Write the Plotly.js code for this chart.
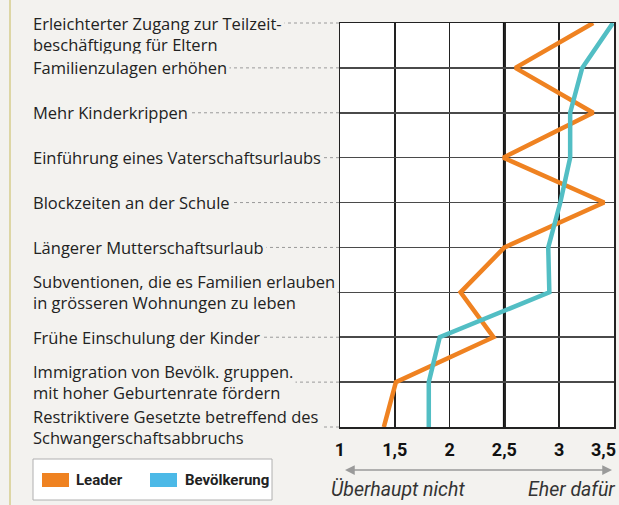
<!DOCTYPE html>
<html>
<head>
<meta charset="utf-8">
<script src="https://cdn.plot.ly/plotly-3.0.1.min.js"></script>
<style>html,body{margin:0;padding:0;background:#f3f2ef;}#chart{width:619px;height:505px;}</style>
</head>
<body>
<div id="chart"></div>
<script>
const categories = [
  'Erleichterter Zugang zur Teilzeit-<br>beschäftigung für Eltern',
  'Familienzulagen erhöhen',
  'Mehr Kinderkrippen',
  'Einführung eines Vaterschaftsurlaubs',
  'Blockzeiten an der Schule',
  'Längerer Mutterschaftsurlaub',
  'Subventionen, die es Familien erlauben<br>in grösseren Wohnungen zu leben',
  'Frühe Einschulung der Kinder',
  'Immigration von Bevölk. gruppen.<br>mit hoher Geburtenrate fördern',
  'Restriktivere Gesetzte betreffend des<br>Schwangerschaftsabbruchs'
];
const seriesNames = ['Leader', 'Bevölkerung'];
const leader      = [3.31, 2.60, 3.31, 2.49, 3.41, 2.50, 2.10, 2.40, 1.51, 1.40];
const bevoelkerung = [3.49, 3.21, 3.10, 3.10, 3.01, 2.90, 2.91, 1.91, 1.81, 1.81];
const tickVals = [1, 1.5, 2, 2.5, 3, 3.5];
const tickText = ['1', '1,5', '2', '2,5', '3', '3,5'];
const scaleLabels = ['Überhaupt nicht', 'Eher dafür'];

// styling (not data)
const BG = '#f3f2ef';
const ORANGE = '#ef8221';
const TEAL = '#52bec4';
const TEAL_KEY = '#4cb9e7';
const LABEL_FONT = {family: '"Open Sans", sans-serif', size: 16.5, color: '#222'};
const TICK_FONT = {family: 'Roboto, sans-serif', size: 18, color: '#111', weight: 'bold'};
const firstLineAligned = [true, false, false, false, false, false, false, false, false, false];
const lastIdx = categories.length - 1;
const lastTick = tickText.length - 1;
// the last tick label sits at the right page edge: draw it right-aligned to its tick
const ticksShown = tickText.map((t, i) => i === lastTick ? '' : t);

const traces = [
  {x: leader, y: categories, type: 'scatter', mode: 'lines', name: seriesNames[0],
   line: {color: ORANGE, width: 4.5}, cliponaxis: false, showlegend: false, hoverinfo: 'x+name'},
  {x: bevoelkerung, y: categories, type: 'scatter', mode: 'lines', name: seriesNames[1],
   line: {color: TEAL, width: 4.5}, cliponaxis: false, showlegend: false, hoverinfo: 'x+name'}
];

const annotations = [];
const shapes = [];
categories.forEach((c, i) => {
  annotations.push({
    text: c, xref: 'paper', x: 0, xshift: -310, xanchor: 'left',
    yref: 'y', y: c, yanchor: 'middle', yshift: firstLineAligned[i] ? -11 : 0,
    showarrow: false, align: 'left', bgcolor: BG, borderpad: 2,
    font: LABEL_FONT
  });
  shapes.push({
    type: 'line', layer: 'below', xref: 'paper', xsizemode: 'pixel', xanchor: 0, x0: -280, x1: 0,
    yref: 'paper', y0: 1 - i / lastIdx, y1: 1 - i / lastIdx,
    line: {color: '#9a9a9a', width: 1, dash: 'dot'}
  });
});

annotations.push({text: tickText[lastTick], xref: 'x', x: tickVals[lastTick], xanchor: 'right', xshift: 4,
  yref: 'paper', y: 0, yanchor: 'middle', yshift: -22, showarrow: false, font: TICK_FONT});

// thick reference line at midpoint value of the scale
shapes.push({type: 'line', layer: 'below', xref: 'x', x0: tickVals[3], x1: tickVals[3], yref: 'paper', y0: 0, y1: 1,
  line: {color: '#111', width: 3}});
// left border strip
shapes.push({type: 'line', xref: 'paper', xsizemode: 'pixel', xanchor: 0, x0: -330, x1: -330,
  yref: 'paper', y0: -1, y1: 2, line: {color: '#d6cd8c', width: 1.5}});
// legend box
shapes.push({type: 'rect', xref: 'paper', xsizemode: 'pixel', xanchor: 0, x0: -307, x1: -68,
  yref: 'paper', ysizemode: 'pixel', yanchor: 0, y0: -32, y1: -73,
  fillcolor: '#ffffff', line: {color: '#b0b0b0', width: 1}});
shapes.push({type: 'rect', xref: 'paper', xsizemode: 'pixel', xanchor: 0, x0: -298, x1: -271,
  yref: 'paper', ysizemode: 'pixel', yanchor: 0, y0: -46, y1: -60,
  fillcolor: ORANGE, line: {width: 0}});
shapes.push({type: 'rect', xref: 'paper', xsizemode: 'pixel', xanchor: 0, x0: -190, x1: -163,
  yref: 'paper', ysizemode: 'pixel', yanchor: 0, y0: -46, y1: -60,
  fillcolor: TEAL_KEY, line: {width: 0}});

annotations.push({text: '<b>' + seriesNames[0] + '</b>', xref: 'paper', x: 0, xshift: -266, xanchor: 'left',
  yref: 'paper', y: 0, yshift: -53, yanchor: 'middle', showarrow: false,
  font: {family: 'Roboto, sans-serif', size: 15, color: '#222'}});
annotations.push({text: '<b>' + seriesNames[1] + '</b>', xref: 'paper', x: 0, xshift: -157, xanchor: 'left',
  yref: 'paper', y: 0, yshift: -53, yanchor: 'middle', showarrow: false,
  font: {family: 'Roboto, sans-serif', size: 15, color: '#222'}});

// scale arrow
annotations.push({text: ' ', xref: 'paper', x: 1, xshift: -2, yref: 'paper', y: 0, yshift: -43,
  showarrow: true, axref: 'pixel', ayref: 'pixel', ax: -270, ay: 0, arrowside: 'end+start',
  arrowhead: 2, startarrowhead: 2, arrowsize: 1.3, startarrowsize: 1.3, arrowwidth: 1.5, arrowcolor: '#9a9a9a', standoff: 0, startstandoff: 0});
annotations.push({text: '<i>' + scaleLabels[0] + '</i>', xref: 'paper', x: 0, xshift: -11, xanchor: 'left',
  yref: 'paper', y: 0, yshift: -62, yanchor: 'middle', showarrow: false,
  font: {family: 'Roboto, sans-serif', size: 19.5, color: '#333'}});
annotations.push({text: '<i>' + scaleLabels[1] + '</i>', xref: 'paper', x: 1, xshift: 3, xanchor: 'right',
  yref: 'paper', y: 0, yshift: -62, yanchor: 'middle', showarrow: false,
  font: {family: 'Roboto, sans-serif', size: 19.5, color: '#333'}});

const layout = {
  width: 619, height: 505,
  margin: {l: 340, r: 5, t: 23, b: 78, pad: 0},
  paper_bgcolor: BG, plot_bgcolor: '#ffffff',
  showlegend: false,
  xaxis: {range: [tickVals[0], tickVals[lastTick]], tickvals: tickVals, ticktext: ticksShown,
    showgrid: true, gridcolor: '#222', gridwidth: 1.5, zeroline: false,
    showline: true, mirror: true, linecolor: '#222', linewidth: 1.5,
    ticks: '', ticklabelstandoff: 6,
    tickfont: TICK_FONT},
  yaxis: {type: 'category', categoryorder: 'array', categoryarray: categories,
    range: [lastIdx, 0], showticklabels: false, ticks: '',
    showgrid: true, gridcolor: '#4a4a4a', gridwidth: 1.5, zeroline: false,
    showline: true, mirror: true, linecolor: '#222', linewidth: 1.5},
  shapes: shapes,
  annotations: annotations
};

Plotly.newPlot('chart', traces, layout, {displayModeBar: false, staticPlot: true});
</script>
</body>
</html>
